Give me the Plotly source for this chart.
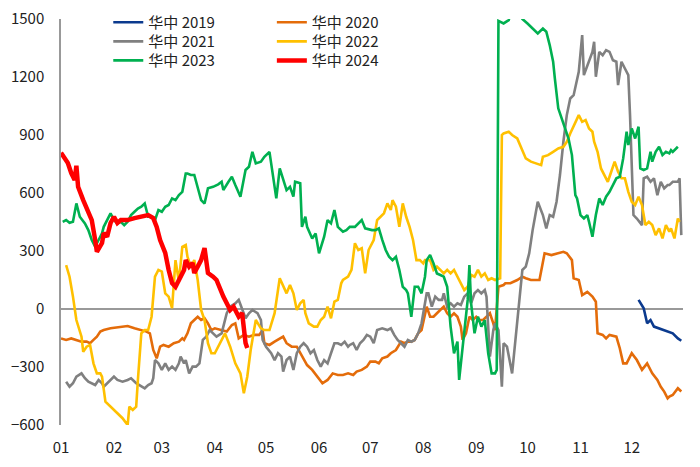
import pandas as pd
import plotly.graph_objects as go

# day-of-year (0 = Jan 1) and values for each year
d2019 = [338, 341, 343, 345, 347, 350, 353, 356, 358, 361, 363]
v2019 = [47, 4, -74, -57, -91, -100, -109, -117, -126, -152, -164]

d2020 = [0, 3, 6, 9, 12, 15, 17, 19, 21, 23, 25, 29, 35, 39, 43, 47, 50, 52, 54, 56, 58, 60, 63, 66, 69, 71, 72, 74, 76, 78,
         80, 82, 84, 86, 88, 90, 94, 97, 100, 102, 104, 107, 110, 113, 116, 118, 119, 122, 125, 128, 130, 132, 135, 138, 140,
         142, 144, 147, 150, 153, 156, 159, 162, 165, 168, 171, 173, 176, 179, 181, 184, 186, 188, 191, 193, 196, 199, 201, 203,
         205, 207, 209, 211, 213, 214, 216, 218, 220, 222, 224, 226, 228, 230, 232, 234, 235, 237, 239, 241, 243, 245, 247, 249,
         251, 253, 254, 256, 259, 260, 263, 267, 270, 272, 275, 280, 283, 287, 291, 294, 296, 299, 300, 303, 305, 308, 311, 313,
         314, 317, 319, 321, 325, 327, 329, 331, 334, 337, 340, 343, 346, 349, 351, 353, 355, 356, 358, 361, 363]
v2020 = [-152, -160, -152, -160, -169, -169, -177, -160, -143, -117, -109, -100, -91, -88, -100, -109, -117, -126, -212, -255,
         -195, -186, -195, -177, -169, -152, -160, -126, -74, -57, -40, -57, -48, -74, -109, -100, -109, -117, -83, -74, -152,
         -134, -143, -134, -134, -109, -177, -186, -169, -152, -143, -177, -195, -195, -229, -255, -290, -315, -350, -384, -367,
         -333, -341, -341, -333, -341, -324, -315, -298, -272, -272, -281, -255, -246, -229, -212, -169, -177, -169, -169, -160,
         -126, -109, -22, 12, -40, -40, -22, -5, 12, -22, -40, -22, -40, -91, -160, -126, -40, -57, -40, -57, -57, -40, -22, -74,
         -109, 115, 124, 133, 133, 150, 167, 159, 150, 150, 288, 279, 288, 296, 288, 253, 159, 150, 72, 89, 64, 38, -126, -134,
         -152, -134, -143, -203, -281, -281, -229, -264, -315, -281, -333, -367, -402, -427, -462, -453, -445, -410, -427]

d2021 = [3, 5, 7, 9, 12, 14, 16, 18, 20, 22, 24, 25, 28, 31, 33, 36, 39, 41, 44, 47, 49, 51, 53, 54, 55, 57, 59, 61, 63, 65,
         67, 69, 70, 72, 73, 75, 77, 79, 81, 83, 85, 87, 89, 91, 94, 97, 99, 102, 104, 106, 108, 110, 112, 115, 117, 118, 120,
         123, 125, 127, 129, 130, 132, 134, 136, 138, 140, 142, 144, 146, 148, 150, 152, 154, 156, 158, 160, 162, 164, 166, 168,
         169, 171, 173, 175, 177, 179, 181, 183, 185, 188, 191, 193, 195, 197, 199, 201, 203, 205, 207, 209, 211, 213, 214, 215,
         217, 219, 221, 223, 224, 226, 228, 230, 232, 234, 236, 238, 240, 242, 244, 246, 248, 249, 250, 251, 253, 254, 256, 258,
         259, 261, 264, 266, 268, 270, 272, 274, 276, 279, 282, 284, 286, 288, 290, 292, 294, 296, 298, 300, 303, 304, 305, 306,
         308, 309, 311, 312, 313, 315, 317, 319, 321, 323, 325, 326, 328, 330, 332, 333, 334, 335, 337, 340, 341, 343, 345, 347,
         349, 351, 353, 355, 356, 358, 361, 362, 363]
v2021 = [-376, -402, -384, -350, -333, -358, -376, -384, -393, -367, -384, -402, -376, -350, -367, -376, -367, -358, -384,
         -402, -410, -393, -384, -358, -264, -281, -315, -281, -315, -298, -315, -281, -246, -281, -264, -333, -298, -298, -281,
         -160, -143, -109, -126, -143, -126, -22, 12, 29, 47, -5, -48, -22, -5, -22, -57, -160, -195, -229, -264, -229, -246,
         -324, -264, -246, -315, -229, -195, -177, -195, -229, -212, -264, -298, -264, -281, -229, -177, -177, -186, -169, -195,
         -186, -177, -212, -177, -160, -134, -143, -177, -109, -100, -109, -100, -134, -160, -177, -195, -160, -169, -160, -126,
         -74, 47, 81, 81, 12, 64, 47, 47, 81, 12, 29, 12, 29, 21, 64, 81, 29, 81, 98, 81, 98, 64, -109, -246, -109, -74, -109,
         -402, -177, -195, -333, -160, 29, 202, 219, 288, 408, 555, 486, 417, 486, 477, 555, 693, 865, 1003, 1089, 1106, 1227,
         1330, 1417, 1210, 1261, 1279, 1330, 1382, 1201, 1330, 1313, 1339, 1330, 1287, 1279, 1158, 1279, 1244, 1210, 1003, 744,
         486, 468, 434, 676, 684, 658, 676, 589, 658, 624, 641, 641, 658, 658, 676, 382]

d2022 = [3, 5, 7, 9, 12, 13, 15, 17, 19, 21, 23, 24, 26, 31, 36, 39, 40, 42, 44, 45, 47, 49, 51, 53, 55, 57, 59, 61, 63, 65,
         67, 69, 71, 73, 74, 76, 78, 80, 82, 84, 86, 88, 90, 96, 99, 102, 105, 107, 109, 111, 114, 117, 119, 122, 125, 128, 130,
         132, 134, 136, 138, 140, 142, 143, 145, 148, 150, 152, 154, 156, 158, 160, 162, 164, 165, 168, 170, 172, 174, 176, 178,
         180, 183, 185, 187, 189, 191, 193, 194, 196, 198, 200, 202, 204, 206, 208, 210, 212, 213, 216, 218, 220, 222, 224, 226,
         228, 230, 232, 234, 236, 238, 240, 242, 244, 246, 248, 250, 252, 254, 257, 258, 259, 262, 264, 267, 269, 272, 275, 278,
         281, 282, 285, 288, 291, 294, 296, 298, 301, 303, 305, 307, 309, 311, 312, 314, 316, 318, 320, 322, 324, 326, 328, 330,
         332, 334, 336, 338, 340, 342, 344, 346, 348, 350, 352, 354, 356, 357, 359, 361, 362]
v2022 = [227, 167, 64, -57, -143, -221, -195, -186, -281, -333, -333, -350, -479, -522, -565, -600, -505, -522, -505, -367,
         -126, -109, -109, -40, 167, 202, 193, 81, 64, 4, 253, 141, 322, 331, 270, 219, 253, 150, -5, -57, -177, -229, -229,
         -126, -195, -281, -333, -436, -350, -212, -57, -100, -109, -109, -22, 159, 124, 81, 124, 81, -5, 29, 47, -22, -74, -91,
         -91, -57, -40, 12, -48, 38, 47, 133, 150, 167, 202, 340, 305, 314, 184, 305, 357, 460, 477, 495, 546, 512, 563, 529,
         425, 546, 477, 425, 357, 253, 253, 236, 253, 253, 202, 219, 202, 184, 202, 184, 202, 167, 133, 98, 115, 176, 167, 202,
         167, 184, 150, 159, 150, 159, 900, 908, 917, 900, 882, 839, 779, 762, 753, 744, 787, 796, 813, 830, 839, 865, 908, 968,
         1003, 968, 977, 934, 917, 865, 813, 727, 693, 658, 710, 762, 710, 676, 676, 606, 555, 538, 581, 538, 434, 451, 434, 382,
         417, 365, 434, 400, 417, 365, 468, 451]

d2023 = [1, 3, 5, 7, 9, 11, 14, 16, 18, 20, 22, 24, 25, 27, 29, 31, 33, 35, 37, 39, 41, 43, 45, 47, 49, 51, 53, 55, 57, 59,
         61, 63, 65, 67, 69, 71, 73, 74, 76, 78, 80, 82, 84, 86, 89, 92, 94, 95, 98, 100, 102, 105, 108, 110, 112, 114, 117,
         119, 122, 124, 126, 128, 130, 132, 134, 136, 137, 140, 141, 143, 144, 147, 149, 151, 154, 156, 158, 160, 162, 165, 167,
         169, 172, 176, 178, 182, 184, 186, 188, 190, 192, 194, 196, 198, 200, 202, 203, 205, 207, 209, 211, 213, 214, 216, 218,
         220, 222, 224, 226, 227, 228, 230, 232, 233, 236, 238, 239, 240, 242, 244, 246, 248, 250, 252, 254, 255, 256, 259, 262,
         264, 268, 270, 273, 276, 279, 282, 284, 286, 288, 289, 290, 291, 293, 295, 297, 299, 301, 302, 303, 304, 306, 308, 309,
         311, 313, 315, 317, 319, 321, 323, 325, 327, 329, 331, 332, 334, 336, 338, 339, 341, 343, 345, 346, 348, 350, 352, 354,
         356, 357, 358, 361]
v2023 = [451, 460, 446, 451, 546, 477, 443, 408, 357, 322, 357, 391, 425, 460, 495, 460, 443, 451, 434, 451, 486, 503, 520,
         529, 546, 477, 477, 460, 512, 503, 529, 538, 572, 563, 589, 606, 701, 701, 693, 693, 632, 563, 546, 624, 632, 645, 658,
         615, 658, 684, 641, 581, 719, 736, 813, 753, 762, 787, 813, 684, 572, 727, 667, 615, 632, 581, 658, 650, 425, 477, 425,
         365, 391, 288, 374, 460, 443, 512, 425, 400, 408, 425, 425, 460, 417, 408, 408, 417, 357, 305, 270, 253, 270, 202, 115,
         98, 81, -40, 115, 115, 81, 167, 253, 279, 236, 184, 176, 167, 115, -5, -91, -229, -169, -367, -126, 47, 227, 29, -126,
         -40, -91, -57, -229, -333, -333, -315, 1490, 1477, 1494, 1560, 1560, 1500, 1477, 1451, 1425, 1451, 1434, 1365, 1279,
         1193, 1124, 1038, 986, 934, 882, 796, 589, 572, 520, 486, 468, 486, 451, 374, 486, 572, 538, 581, 606, 641, 676, 684,
         779, 917, 848, 934, 882, 943, 727, 719, 727, 813, 762, 813, 839, 796, 813, 805, 822, 813, 839]

d2024 = [0, 2, 4, 6, 8, 9, 10, 13, 16, 18, 20, 21, 24, 25, 27, 29, 31, 33, 35, 39, 43, 47, 51, 54, 56, 58, 61, 63, 65, 67,
         70, 72, 73, 75, 77, 78, 80, 82, 84, 86, 89, 91, 95, 99, 101, 104, 106, 108, 109]
v2024 = [808, 786, 755, 703, 667, 741, 632, 563, 496, 460, 357, 296, 341, 393, 374, 445, 477, 445, 460, 460, 470, 481, 486,
         470, 425, 357, 290, 202, 134, 115, 167, 202, 253, 219, 238, 186, 219, 253, 315, 186, 167, 150, 64, -5, 12, -40, -21,
         -176, -202]

month_labels = ["01", "02", "03", "04", "05", "06", "07", "08", "09", "10", "11", "12"]

series = [
    ("华中 2019", d2019, v2019, "#0b3a8e", 2.6),
    ("华中 2020", d2020, v2020, "#e46c0a", 2.6),
    ("华中 2021", d2021, v2021, "#808080", 2.6),
    ("华中 2022", d2022, v2022, "#ffc000", 2.6),
    ("华中 2023", d2023, v2023, "#00b050", 2.6),
    ("华中 2024", d2024, v2024, "#ff0000", 4.5),
]

# legend slot (column x, row y) for each series, 2 columns x 3 rows
legend_x = [0.076, 0.339]
legend_y = [1.032, 0.985, 0.938]

base = pd.Timestamp("2023-01-01")
fig = go.Figure()
layout_legends = {}
for i, (name, d, v, color, w) in enumerate(series):
    x = base + pd.to_timedelta(d, unit="D")
    key = "legend" if i == 0 else f"legend{i + 1}"
    fig.add_trace(go.Scatter(x=x, y=v, mode="lines", name=name,
                             line=dict(color=color, width=w), legend=key))
    layout_legends[key] = dict(x=legend_x[i % 2], y=legend_y[i // 2], xanchor="left", yanchor="top",
                               bgcolor="rgba(0,0,0,0)", font=dict(size=15), borderwidth=0)

tickvals = [pd.Timestamp(f"2023-{m}-01") for m in month_labels]
font = "Noto Sans CJK SC, Open Sans, sans-serif"
fig.update_layout(
    width=692, height=459,
    margin=dict(l=53, r=17, t=11, b=42, autoexpand=False),
    paper_bgcolor="white", plot_bgcolor="white",
    font=dict(family=font, size=15, color="#222"),
    showlegend=True,
    xaxis=dict(range=[base, pd.Timestamp("2023-12-31")], tickvals=tickvals, ticktext=month_labels,
               showgrid=False, zeroline=False, showline=False, ticks="", ticklabelstandoff=12,
               tickfont=dict(size=15), automargin=False, ticklabeloverflow="allow"),
    yaxis=dict(range=[-600, 1500], dtick=300, tick0=0, showgrid=False,
               zeroline=True, zerolinecolor="#999999", zerolinewidth=1.5,
               showline=True, linecolor="#999999", linewidth=1.5, ticks="",
               ticklabelstandoff=12, tickfont=dict(size=15), automargin=False,
               ticklabeloverflow="allow"),
    **layout_legends,
)
fig.write_html("out.html")
